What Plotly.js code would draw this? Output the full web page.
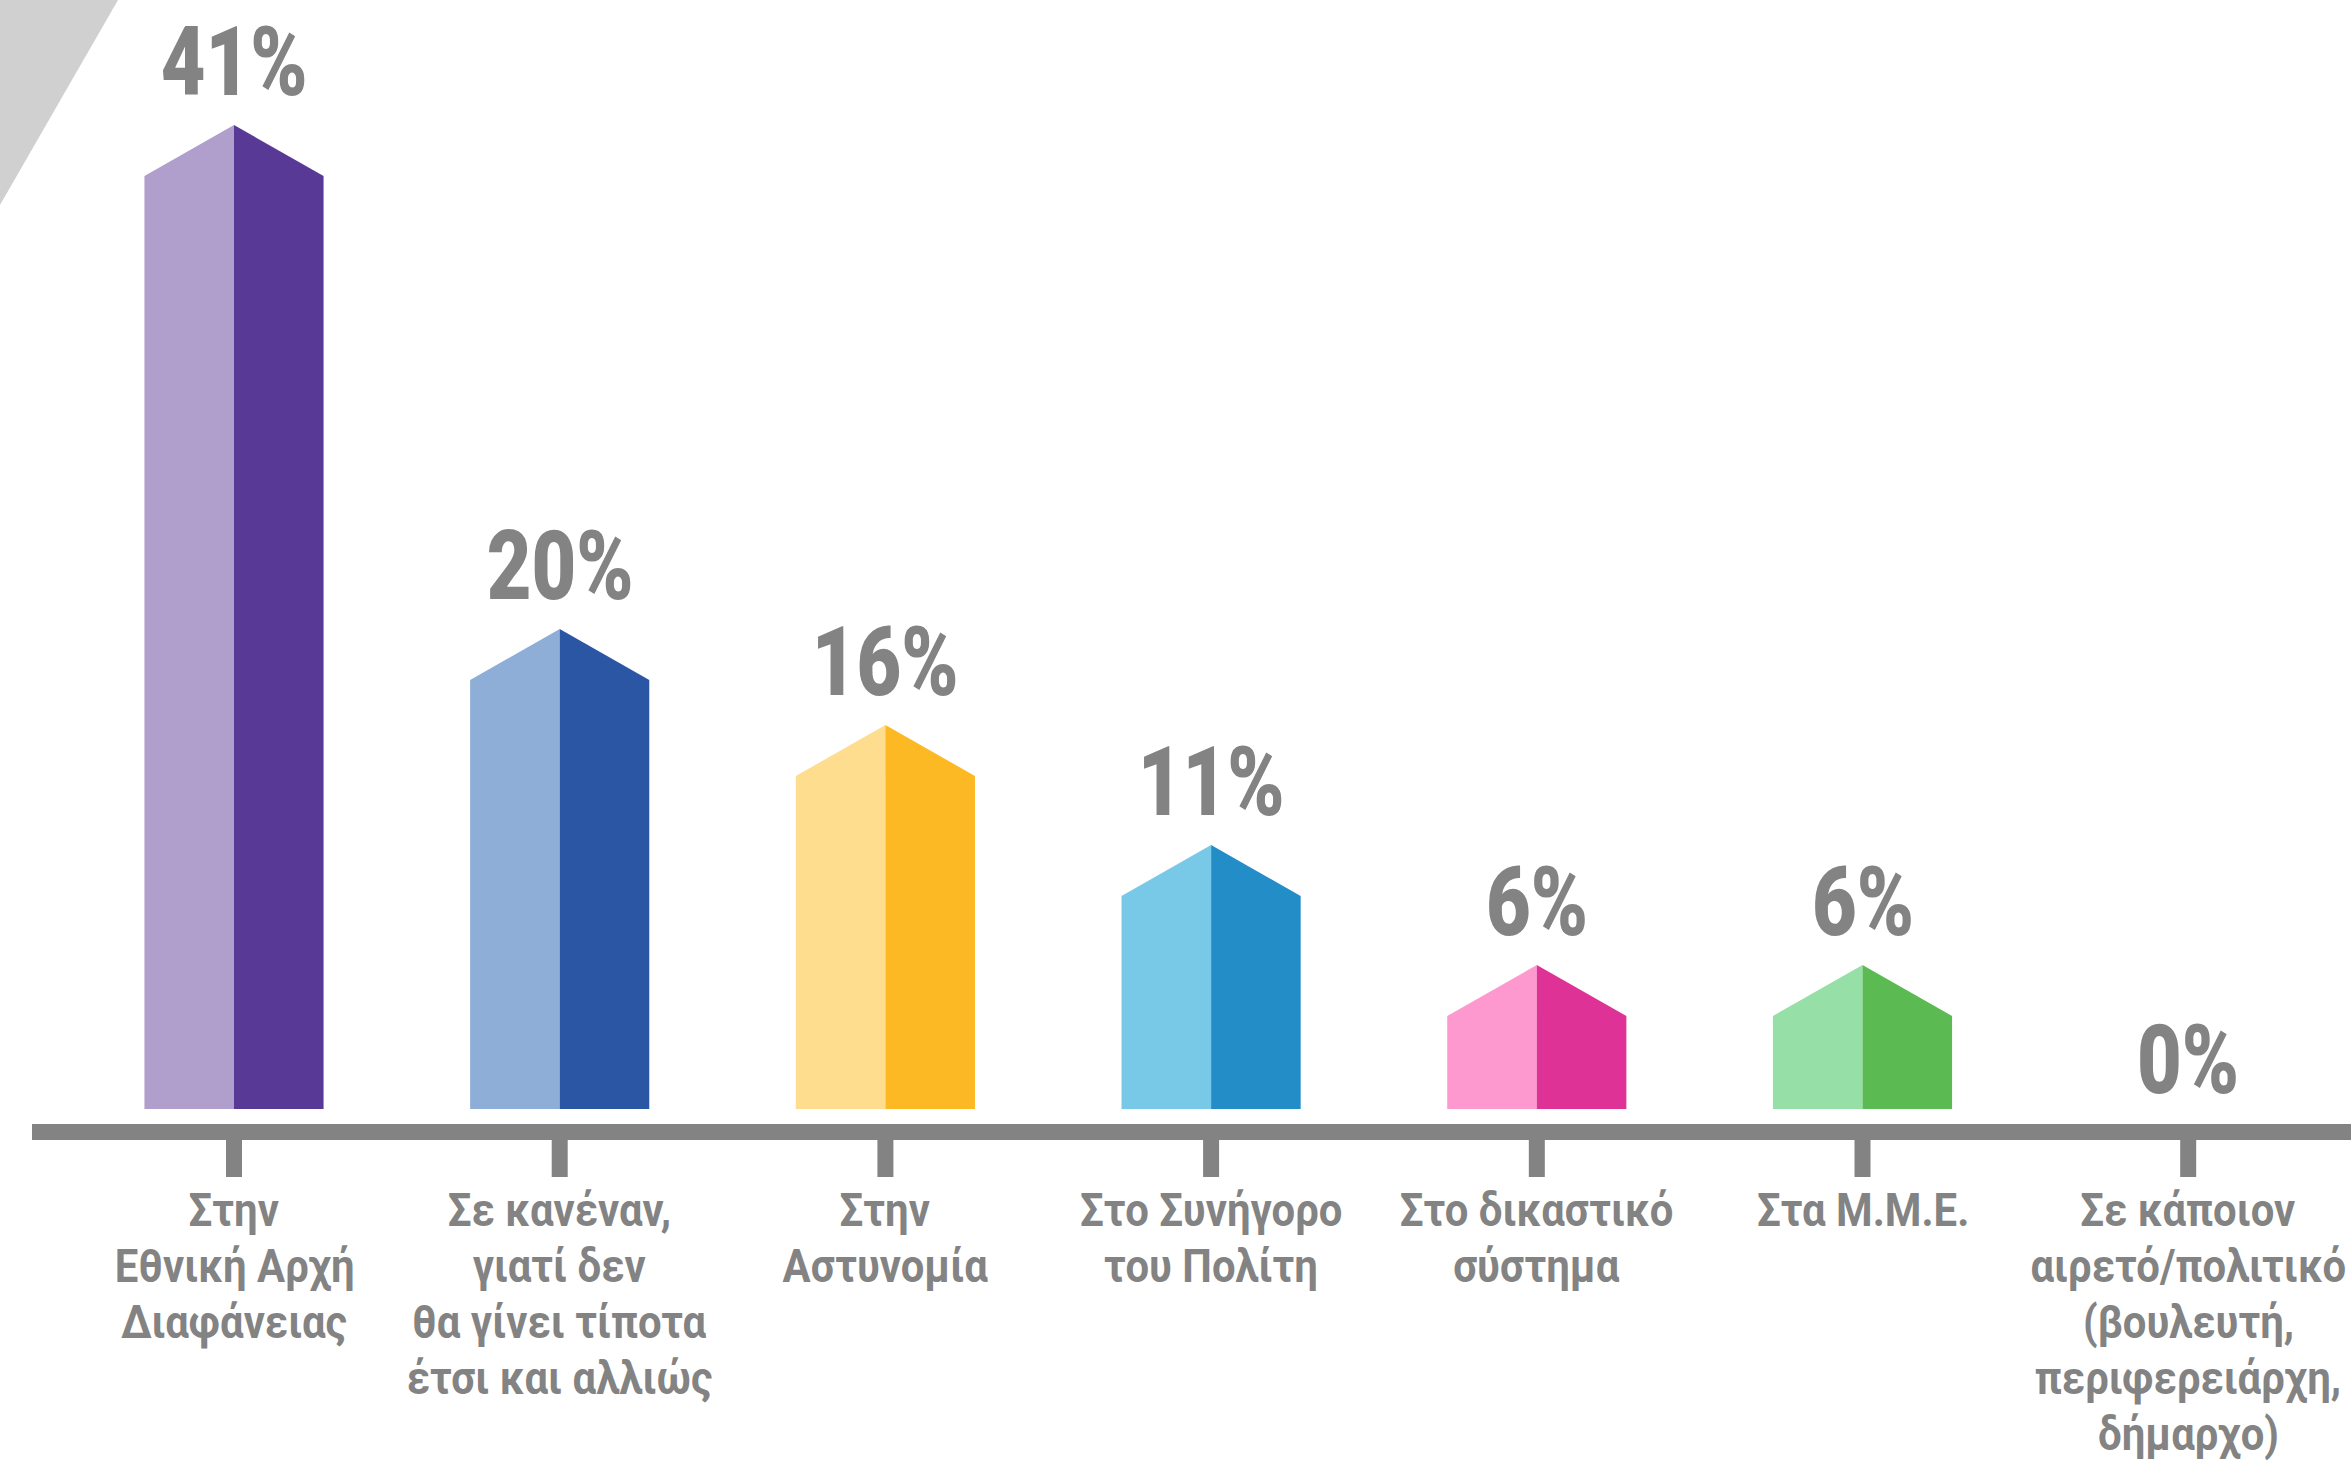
<!DOCTYPE html>
<html>
<head>
<meta charset="utf-8">
<script src="https://cdn.plot.ly/plotly-3.0.1.min.js"></script>
<style>
  html, body { margin: 0; padding: 0; background: #ffffff; overflow: hidden; }
  #chart { width: 2351px; height: 1462px; }
</style>
</head>
<body>
<div id="chart"></div>
<script>
// ---- data ----
const categories = [
  'Στην<br>Εθνική Αρχή<br>Διαφάνειας',
  'Σε κανέναν,<br>γιατί δεν<br>θα γίνει τίποτα<br>έτσι και αλλιώς',
  'Στην<br>Αστυνομία',
  'Στο Συνήγορο<br>του Πολίτη',
  'Στο δικαστικό<br>σύστημα',
  'Στα Μ.Μ.Ε.',
  'Σε κάποιον<br>αιρετό/πολιτικό<br>(βουλευτή,<br>περιφερειάρχη,<br>δήμαρχο)'
];
const values = [41, 20, 16, 11, 6, 6, 0];
const percentLabels = ['41%', '20%', '16%', '11%', '6%', '6%', '0%'];
const lightColors = ['#B09FCC', '#8EAED8', '#FEDD8E', '#78C8E8', '#FD99CF', '#96E0A8', '#CCCCCC'];
const darkColors  = ['#583A96', '#2A56A4', '#FDB924', '#238DC8', '#DF3296', '#5BBB52', '#888888'];

// ---- layout constants ----
const W = 2351, H = 1462;
const GRAY = '#838383';
const FONT = 'Roboto, "Liberation Sans", sans-serif';
const PCT_SIZE = 97, PCT_WEIGHT = 900;
const CAT_SIZE = 47, CAT_WEIGHT = 700, CAT_LINE = 56, CAT_FIRST_BASE = 1226;
const pxPerCat = 325.7, firstCenterPx = 234;
const xMin = -firstCenterPx / pxPerCat;
const xMax = xMin + W / pxPerCat;
const baselinePx = 1109, pxPerUnit = 24.0;
const yMax = baselinePx / pxPerUnit;
const yMin = -(H - baselinePx) / pxPerUnit;
const halfW = 0.275;           // half bar width in category units
const roof = 51 / pxPerUnit;    // roof height in value units
const py = p => 1 - p / H;      // pixel row -> paper y

// horizontal condensing factors (reference font is a condensed face)
const cvs = document.createElement('canvas').getContext('2d');
function textWidth(t, size, weight) { cvs.font = `${weight} ${size}px Roboto`; return cvs.measureText(t).width; }
const pctScale = 147 / textWidth('20%', PCT_SIZE, PCT_WEIGHT);
const catScale = 240 / textWidth('Εθνική Αρχή', CAT_SIZE, CAT_WEIGHT);

const traces = [];
values.forEach((v, i) => {
  if (v <= 0) return;
  const shoulder = Math.max(v - roof, 0);
  traces.push({
    type: 'scatter', mode: 'lines', fill: 'toself',
    x: [i - halfW, i - halfW, i, i, i - halfW],
    y: [0, shoulder, v, 0, 0],
    fillcolor: lightColors[i], line: {width: 0, color: lightColors[i]},
    hoverinfo: 'skip', showlegend: false
  });
  traces.push({
    type: 'scatter', mode: 'lines', fill: 'toself',
    x: [i, i, i + halfW, i + halfW, i],
    y: [0, v, shoulder, 0, 0],
    fillcolor: darkColors[i], line: {width: 0, color: darkColors[i]},
    hoverinfo: 'skip', showlegend: false
  });
});

const annotations = [];
values.forEach((v, i) => {
  annotations.push({
    x: i, y: v, xref: 'x', yref: 'y',
    text: percentLabels[i], showarrow: false,
    xanchor: 'center', yanchor: 'bottom', yshift: v > 0 ? 4 : -10,
    font: {family: FONT, size: PCT_SIZE, color: GRAY, weight: PCT_WEIGHT}
  });
});
const nPct = annotations.length;
categories.forEach((label, i) => {
  label.split('<br>').forEach((line, k) => {
    const base = CAT_FIRST_BASE + k * CAT_LINE;
    annotations.push({
      x: i, y: py(base - 0.928 * CAT_SIZE), xref: 'x', yref: 'paper',
      text: line, showarrow: false, borderpad: 0, borderwidth: 0,
      xanchor: 'center', yanchor: 'top', align: 'center',
      font: {family: FONT, size: CAT_SIZE, color: GRAY, weight: CAT_WEIGHT}
    });
  });
});

const shapes = [
  {type: 'path', xref: 'paper', yref: 'paper',
   path: `M 0 1 L ${118 / W} 1 L 0 ${py(205)} Z`,
   fillcolor: '#D0D0D0', line: {width: 0}, layer: 'below'},
  {type: 'line', xref: 'paper', yref: 'paper',
   x0: 32 / W, x1: 1, y0: py(1132), y1: py(1132),
   line: {color: GRAY, width: 16}}
];
values.forEach((v, i) => {
  shapes.push({type: 'line', xref: 'x', yref: 'paper',
    x0: i, x1: i, y0: py(1140), y1: py(1177),
    line: {color: GRAY, width: 16}});
});

const layout = {
  width: W, height: H,
  margin: {l: 0, r: 0, t: 0, b: 0, pad: 0},
  paper_bgcolor: '#ffffff', plot_bgcolor: '#ffffff',
  showlegend: false,
  xaxis: {range: [xMin, xMax], visible: false, fixedrange: true},
  yaxis: {range: [yMin, yMax], visible: false, fixedrange: true},
  shapes: shapes,
  annotations: annotations
};

function condense() {
  document.querySelectorAll('g.annotation').forEach(g => {
    const idx = +g.getAttribute('data-index');
    const t = g.querySelector('text.annotation-text');
    if (!t) return;
    t.style.transformBox = 'fill-box';
    t.style.transformOrigin = 'center';
    t.style.transform = `scaleX(${idx < nPct ? pctScale : catScale})`;
  });
}
Plotly.newPlot('chart', traces, layout, {displayModeBar: false, staticPlot: true}).then(condense);
</script>
</body>
</html>
